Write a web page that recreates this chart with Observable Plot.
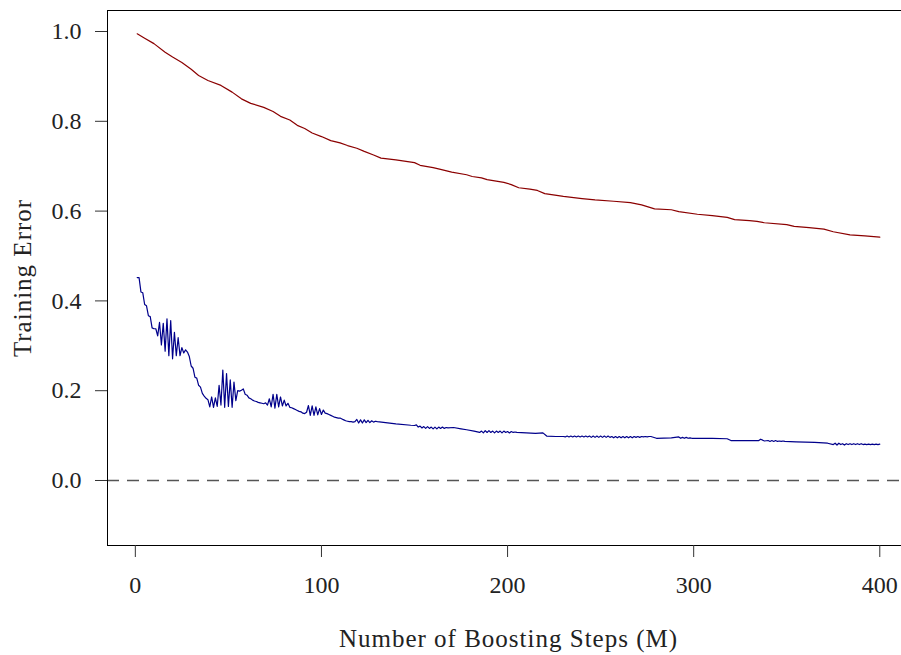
<!DOCTYPE html>
<html>
<head>
<meta charset="utf-8">
<script src="https://cdn.jsdelivr.net/npm/d3@7"></script>
<script src="https://cdn.jsdelivr.net/npm/@observablehq/plot@0.6"></script>
<style>
  html, body { margin: 0; padding: 0; background: #fff; }
  #chart { width: 901px; height: 655px; }
  .axis-title text { letter-spacing: 1px; }
</style>
</head>
<body>
<div id="chart"></div>
<script>
// ---- data ----
const xTicks = [0, 100, 200, 300, 400];
const yTicks = [0, 0.2, 0.4, 0.6, 0.8, 1.0];
const xLabel = "Number of Boosting Steps (M)";
const yLabel = "Training Error";

const redSteps = [1,5,10,16,20,25,30,34,39,46,52,57,62,69,74,78,83,87,91,95,100,105,110,114,119,123,128,132,140,150,153,160,164,170,178,181,186,189,198,202,206,212,216,220,230,240,247,257,266,272,279,288,292,302,310,318,322,330,334,338,350,354,362,370,375,384,392,400];
const redError = [0.995,0.985,0.973,0.954,0.943,0.931,0.916,0.902,0.891,0.880,0.865,0.850,0.840,0.831,0.822,0.811,0.803,0.791,0.784,0.774,0.766,0.757,0.752,0.746,0.740,0.733,0.725,0.718,0.714,0.708,0.702,0.697,0.693,0.687,0.681,0.677,0.674,0.670,0.664,0.659,0.652,0.649,0.646,0.639,0.633,0.628,0.625,0.622,0.619,0.614,0.605,0.603,0.599,0.593,0.590,0.586,0.581,0.579,0.577,0.574,0.570,0.566,0.563,0.560,0.554,0.547,0.545,0.542];

// blue: steps 1..130, one value per step
const blueHeadError = [
 0.452,0.452,0.420,0.418,0.392,0.389,0.367,0.365,0.340,0.338,
 0.338,0.322,0.352,0.302,0.350,0.288,0.360,0.278,0.356,0.271,
 0.330,0.278,0.318,0.278,0.296,0.284,0.291,0.286,0.276,0.255,
 0.250,0.230,0.228,0.212,0.208,0.194,0.188,0.183,0.180,0.164,
 0.186,0.163,0.184,0.165,0.212,0.168,0.246,0.163,0.238,0.165,
 0.224,0.163,0.219,0.178,0.200,0.199,0.201,0.204,0.192,0.190,
 0.184,0.182,0.179,0.177,0.176,0.174,0.173,0.172,0.171,0.173,
 0.168,0.182,0.164,0.192,0.161,0.192,0.164,0.186,0.166,0.179,
 0.166,0.172,0.163,0.162,0.160,0.158,0.156,0.154,0.153,0.150,
 0.149,0.152,0.167,0.145,0.166,0.145,0.164,0.146,0.160,0.147,
 0.157,0.150,0.149,0.147,0.145,0.143,0.141,0.140,0.139,0.139,
 0.137,0.135,0.133,0.132,0.131,0.131,0.130,0.131,0.136,0.128,
 0.135,0.128,0.135,0.129,0.134,0.129,0.133,0.130,0.132,0.131
];
const blueTailSteps = [
 140,148,150,151,152,153,154,155,156,157,158,159,160,161,162,163,164,165,166,167,168,
 171,175,178,182,185,186,187,188,189,190,191,192,193,194,195,196,197,198,199,200,201,202,203,204,205,
 210,215,219,221,226,230,231,232,233,234,235,236,237,238,239,240,241,242,243,
 244,245,246,247,248,249,250,251,252,253,254,255,256,257,258,259,260,261,262,263,264,265,266,267,268,269,270,271,272,273,274,275,276,
 277,280,288,292,293,294,295,296,297,298,299,300,310,318,320,335,336,338,340,341,342,343,344,345,346,347,348,349,
 355,365,372,375,376,377,378,379,380,381,382,383,384,385,386,387,388,389,390,391,392,393,394,395,396,397,398,399,400
];
const blueTailError = [
 0.126,0.123,0.1225,0.124,0.119,0.121,0.117,0.120,0.116,0.120,0.116,0.119,0.115,0.119,0.115,0.119,0.116,0.119,0.116,0.118,0.117,
 0.118,0.115,0.113,0.110,0.107,0.110,0.106,0.111,0.107,0.111,0.107,0.110,0.106,0.110,0.107,0.110,0.106,0.110,0.107,0.109,0.106,0.109,0.107,0.108,0.107,
 0.106,0.105,0.106,0.099,0.098,0.098,0.097,0.099,0.097,0.099,0.097,0.099,0.097,0.099,0.097,0.099,0.097,0.099,0.097,
 0.099,0.096,0.099,0.096,0.099,0.096,0.099,0.096,0.099,0.096,0.099,0.096,0.098,0.095,0.098,0.095,0.098,0.095,0.098,0.095,0.098,0.095,0.098,0.095,0.098,0.096,0.098,0.096,0.098,0.097,0.098,0.097,0.098,
 0.098,0.094,0.095,0.097,0.094,0.096,0.094,0.096,0.094,0.095,0.094,0.094,0.094,0.093,0.089,0.089,0.092,0.088,0.089,0.087,0.089,0.087,0.089,0.087,0.088,0.087,0.088,0.087,
 0.086,0.085,0.083,0.080,0.083,0.079,0.083,0.080,0.082,0.079,0.082,0.080,0.082,0.080,0.082,0.080,0.082,0.080,0.082,0.080,0.081,0.080,0.081,0.080,0.081,0.080,0.081,0.080,0.081
];

// ---- build tables ----
const red = redSteps.map((m, i) => ({M: m, err: redError[i]}));
const blue = blueHeadError.map((v, i) => ({M: i + 1, err: v}))
  .concat(blueTailSteps.map((m, i) => ({M: m, err: blueTailError[i]})));

const FONT = "'Liberation Serif', 'Times New Roman', serif";

const chart = Plot.plot({
  width: 901,
  height: 655,
  marginLeft: 107,
  marginTop: 10,
  marginBottom: 110,
  marginRight: -8,
  style: {fontFamily: FONT, fontSize: "24px", background: "#fff", color: "#222"},
  x: {domain: [-14.96, 415.96], range: [107, 909]},
  y: {domain: [-0.1448, 1.0468], range: [545, 10]},
  marks: [
    Plot.ruleY([0], {stroke: "#555", strokeWidth: 1.4, strokeDasharray: "12,8"}),
    Plot.line(red, {x: "M", y: "err", stroke: "#8b0000", strokeWidth: 1.2}),
    Plot.line(blue, {x: "M", y: "err", stroke: "#00008b", strokeWidth: 1.2}),
    Plot.frame({stroke: "#000", strokeWidth: 1}),
    Plot.axisX({ticks: xTicks, tickSize: 12, tickPadding: 18, label: null, fontSize: 24, tickFormat: d3.format("d"), stroke: "#333"}),
    Plot.axisY({ticks: yTicks, tickSize: 12, tickPadding: 14, label: null, fontSize: 24, tickFormat: d3.format(".1f"), stroke: "#333"}),
    Plot.text([xLabel], {frameAnchor: "bottom", dy: 93, text: d => d, fontSize: 25, fill: "#222", textAnchor: "middle", lineAnchor: "middle", className: "axis-title"}),
    Plot.text([yLabel], {frameAnchor: "left", dx: -85, text: d => d, fontSize: 25, fill: "#222", rotate: -90, textAnchor: "middle", lineAnchor: "middle", className: "axis-title"})
  ]
});
document.getElementById("chart").appendChild(chart);
</script>
</body>
</html>
